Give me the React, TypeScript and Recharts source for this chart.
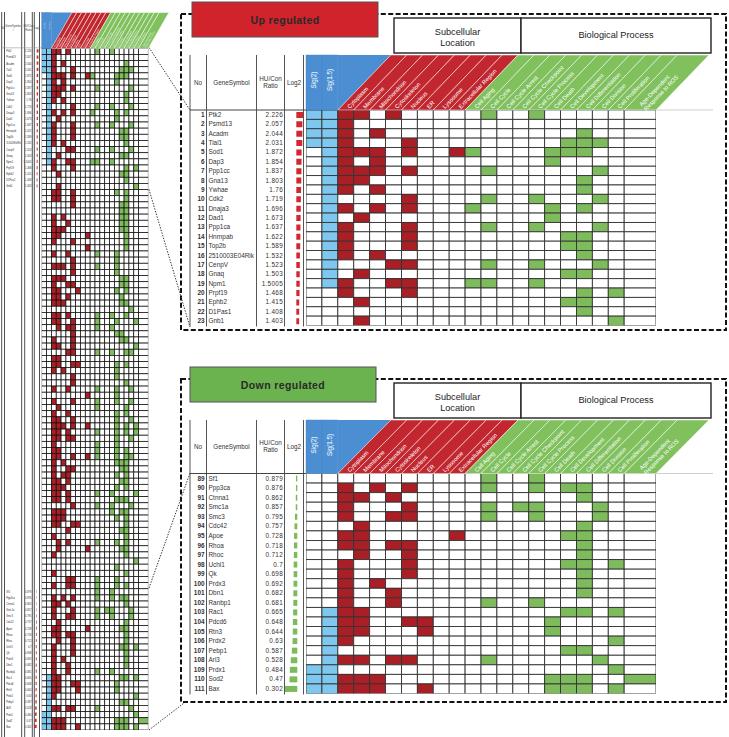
import React from 'react';
import { ScatterChart, Scatter, XAxis, YAxis, BarChart, Bar } from 'recharts';

const W = 729;
const H = 737;
const FONT = '"Liberation Sans", Arial, Helvetica, sans-serif';

// ---------------- data ----------------
const columnLabels = [
  'Sig(2)', 'Sig(1.5)',
  'Cytoplasm', 'Membrane', 'Mitochondrion', 'Cytoskeleton', 'Nucleus', 'ER', 'Lysosome', 'Extracellular Region',
  'Cell Aging', 'Cell Cycle', 'Cell Cycle Arrest', 'Cell Cycle Checkpoint', 'Cell Cycle Process', 'Cell Death',
  'Cell Development', 'Cell Differentiation', 'Cell Division', 'Cell Proliferation', 'Age-Dependent|Response to ROS',
];

const upNo = [1, 2, 3, 4, 5, 6, 7, 8, 9, 10, 11, 12, 13, 14, 15, 16, 17, 18, 19, 20, 21, 22, 23];
const upGenes = ['Ptk2', 'Psmd13', 'Acadm', 'Tial1', 'Sod1', 'Dap3', 'Ppp1cc', 'Gna13', 'Ywhae', 'Cdk2', 'Dnaja3', 'Dad1',
  'Ppp1ca', 'Hnrnpab', 'Top2b', '2510003E04Rik', 'CenpV', 'Gnaq', 'Npm1', 'Prpf19', 'Ephb2', 'D1Pas1', 'Gnb1'];
const upRatios = [2.226, 2.057, 2.044, 2.031, 1.872, 1.854, 1.837, 1.803, 1.76, 1.719, 1.696, 1.673, 1.637, 1.622, 1.589,
  1.532, 1.523, 1.503, 1.5005, 1.468, 1.415, 1.408, 1.403];
// column indices that are filled for each row (0-1 Sig, 2-9 location, 10-20 process)
const upHits = [
  [0, 1, 2, 3, 5, 11, 14],
  [0, 1, 2],
  [0, 1, 2, 4, 17],
  [0, 1, 2, 6, 16, 17, 18],
  [1, 2, 3, 4, 6, 9, 10, 15, 16, 17],
  [1, 2, 4, 15],
  [1, 2, 3, 4, 6, 11, 18],
  [1, 2, 3, 17],
  [1, 2, 4, 17],
  [1, 6, 11, 14, 18],
  [1, 2, 4, 6, 10, 15, 17],
  [1, 3, 15],
  [1, 2, 6, 11, 14, 18],
  [1, 2, 6, 16, 17],
  [1, 2, 6, 16, 17],
  [1, 2, 4, 17],
  [1, 5, 6, 11, 14, 18],
  [1, 3, 16, 17],
  [1, 2, 5, 6, 10, 11, 14],
  [2, 6, 17, 19],
  [3, 16, 17],
  [17],
  [3, 19],
];

const downNo = [89, 90, 91, 92, 93, 94, 95, 96, 97, 98, 99, 100, 101, 102, 103, 104, 105, 106, 107, 108, 109, 110, 111];
const downGenes = ['Sf1', 'Ppp3ca', 'Ctnna1', 'Smc1a', 'Smc3', 'Cdc42', 'Apoe', 'Rhoa', 'Rhoc', 'Uchl1', 'Qk', 'Prdx3',
  'Dbn1', 'Ranbp1', 'Rac1', 'Pdcd6', 'Rtn3', 'Prdx2', 'Pebp1', 'Arl3', 'Prdx1', 'Sod2', 'Bax'];
const downRatios = [0.879, 0.876, 0.862, 0.857, 0.795, 0.757, 0.728, 0.718, 0.712, 0.7, 0.698, 0.692, 0.682, 0.681,
  0.665, 0.648, 0.644, 0.63, 0.587, 0.528, 0.484, 0.47, 0.302];
const downHits = [
  [11, 14],
  [2, 4, 6, 11, 14, 16, 17],
  [2, 3, 5, 17],
  [2, 6, 11, 13, 14, 18],
  [2, 5, 6, 11, 14, 18],
  [3, 17],
  [2, 3, 9, 16, 17],
  [2, 3, 5, 6, 17],
  [3, 6, 17],
  [2, 6, 16, 17, 19],
  [2, 6, 17],
  [2, 4, 17],
  [2, 5, 17],
  [2, 5, 11, 14],
  [1, 2, 3, 16, 17, 19],
  [1, 2, 3, 6, 7, 15],
  [1, 2, 3, 7, 15],
  [1, 2, 19],
  [1, 16, 17],
  [1, 2, 3, 5, 6, 11, 18],
  [0, 1, 19],
  [0, 1, 2, 3, 4, 15, 16, 17, 20],
  [0, 1, 2, 3, 4, 7, 15, 16, 17, 19],
];

// rows 24-88 (only visible in the overview strip)
const midHits = [
  [2, 3, 6, 15, 17], [2, 3, 6, 17], [6, 16, 17], [16, 17], [2, 4, 16, 17], [2, 5, 16, 17], [2, 3, 4, 16, 17],
  [2, 3, 9, 17], [2, 6, 17], [9, 17], [2, 5, 11, 15], [6, 15], [2, 3, 4, 6, 11, 15], [6, 15], [2, 3, 4, 16, 17],
  [2, 5, 6, 16, 17], [2, 3, 7, 15, 17], [2, 3, 5, 16], [2, 3, 4, 16, 17], [18], [2, 3, 5, 11, 14, 17],
  [2, 3, 6, 11, 15, 19], [3, 5, 6, 11, 14], [6, 15, 16], [2, 6, 16, 17], [2, 3, 6, 19], [5, 6, 11, 14, 17, 18],
  [2, 3], [2, 3, 6, 7, 15, 17], [2, 4, 15], [6, 15], [6, 17], [2, 5, 11, 15, 18], [9, 15], [2, 6, 11, 15, 18],
  [3, 11, 17], [2, 5, 15, 17], [2, 3, 6, 15, 18], [2, 3, 4, 6, 9, 15, 17, 19], [2, 3, 5, 11, 15, 17, 19],
  [2, 3, 5, 6, 15, 18], [2, 11, 15], [2, 3, 11, 15, 17], [2, 3, 6, 9, 11, 15, 17, 18], [2, 4, 15, 16, 17],
  [2, 5, 6, 16, 17], [2, 4, 5, 15, 17], [2, 3, 5, 16, 17], [2, 3, 4, 15, 17], [2, 3, 5, 11, 14, 19],
  [2, 3, 5, 15, 16, 17], [6, 11, 14, 18], [2, 3, 4, 14, 16, 17], [2, 3, 4, 15, 17], [2, 3, 6, 7, 17], [5, 16, 17],
  [2, 17], [3, 5, 11, 15, 17], [3, 9, 16, 17], [2, 17], [19], [15], [2, 17], [5, 6, 11, 15], [2, 5, 6, 11, 15, 17],
];

// ---------------- style ----------------
const CELL: any = { sig: '#7ec7ee', loc: '#aa1f25', bio: '#7dbb5c' };
const HEAD: any = { sig: '#4b8fd2', loc: '#c2262e', bio: '#80c15e' };
const groupOf = (c: number) => (c < 2 ? 'sig' : c < 10 ? 'loc' : 'bio');
const abs: any = { position: 'absolute', left: 0, top: 0 };

function HeaderTick(props: any) {
  const { x, payload, unit, yb, yt, slant, fs, sigFs, sigY, m } = props;
  const v = payload.value;
  const c = v > 20 ? 20 : Math.floor(v);
  const span = c === 20 ? 2 : 1;
  const xl = x - (unit * span) / 2;
  const xr = x + (unit * span) / 2;
  const g = groupOf(c);
  const h = yb - yt;
  const theta = Math.atan2(h, slant);
  const deg = (theta * 180) / Math.PI;
  const label = columnLabels[c];
  if (g === 'sig') {
    const tx = x + sigFs * 0.36;
    const ty = yt + sigY;
    return (
      <g>
        <rect x={xl} y={yt} width={xr - xl} height={h} fill={HEAD.sig} stroke="#3f7fc0" strokeWidth={0.4} />
        {c === 1 && <polygon points={`${xr},${yb} ${xr},${yt} ${xr + slant},${yt}`} fill={HEAD.sig} />}
        <text x={tx} y={ty} transform={`rotate(-90 ${tx} ${ty})`} textAnchor="middle" fontSize={sigFs} fill="#fff" fontFamily={FONT}>{label}</text>
      </g>
    );
  }
  const ux = Math.cos(theta);
  const uy = -Math.sin(theta);
  const nx = Math.sin(theta);
  const ny = Math.cos(theta);
  const lines = label.split('|');
  const gap = fs * 1.1;
  return (
    <g>
      <polygon points={`${xl},${yb} ${xr},${yb} ${xr + slant},${yt} ${xl + slant},${yt}`} fill={HEAD[g]} stroke="#fff" strokeWidth={0.5} />
      {lines.map((t: string, i: number) => {
        const k = fs * 0.35 + (i - (lines.length - 1) / 2) * gap;
        const sx = x + ux * m + nx * k;
        const sy = yb + uy * m + ny * k;
        return (
          <text key={i} x={sx} y={sy} transform={`rotate(${-deg} ${sx} ${sy})`} fontSize={fs} fill="#fff" fontFamily={FONT}>{t}</text>
        );
      })}
    </g>
  );
}

function HeatGrid(props: any) {
  const { hits, x0, x1, yt, y0, y1, slant, fs, sigFs, sigY, m, stroke, sw } = props;
  const nRows = hits.length;
  const unit = (x1 - x0) / 22;
  const rowH = (y1 - y0) / nRows;
  const data: any[] = [];
  hits.forEach((h: number[], r: number) => {
    for (let c = 0; c < 21; c++) data.push({ col: c, x: c < 20 ? c + 0.5 : 21, y: r + 0.5, on: h.includes(c) });
  });
  const ticks = columnLabels.map((_, c) => (c < 20 ? c + 0.5 : 21));
  const shape = (p: any) => {
    const { cx, cy, payload } = p;
    const w = unit * (payload.col === 20 ? 2 : 1);
    return (
      <rect x={cx - w / 2} y={cy - rowH / 2} width={w} height={rowH}
        fill={payload.on ? CELL[groupOf(payload.col)] : '#ffffff'} stroke={stroke} strokeWidth={sw} />
    );
  };
  return (
    <div style={abs}>
      <ScatterChart width={W} height={H} margin={{ top: yt, left: x0, right: W - x1, bottom: H - y1 }}>
        <XAxis type="number" dataKey="x" domain={[0, 22]} orientation="top" height={y0 - yt} ticks={ticks}
          interval={0} axisLine={false} tickLine={false} allowDataOverflow
          tick={(p: any) => <HeaderTick {...p} unit={unit} yb={y0} yt={yt} slant={slant} fs={fs} sigFs={sigFs} sigY={sigY} m={m} />} />
        <YAxis type="number" dataKey="y" domain={[0, nRows]} reversed hide allowDataOverflow />
        <Scatter data={data} isAnimationActive={false} shape={shape} />
      </ScatterChart>
    </div>
  );
}

function RowsChart(props: any) {
  const { rows, y0, y1, xl, xr, domain, color, barSize, fs, noX, nameX, ratioX, spacing, nameMax } = props;
  const tick = (p: any) => {
    const row = rows.find((r: any) => r.no === p.payload.value);
    if (!row) return <g />;
    const y = p.y + fs * 0.36;
    const long = nameMax && row.name && row.name.length * fs * 0.55 > nameMax;
    return (
      <g fontFamily={FONT} fontSize={fs} fill="#333">
        {noX != null && <text x={noX} y={y} textAnchor="end" fontWeight="bold">{row.no}</text>}
        {row.name && (
          <text x={nameX} y={y} textLength={long ? nameMax : undefined} lengthAdjust={long ? 'spacingAndGlyphs' : undefined}>{row.name}</text>
        )}
        {row.ratio != null && <text x={ratioX} y={y} textAnchor="end" letterSpacing={spacing}>{row.ratio}</text>}
      </g>
    );
  };
  return (
    <div style={abs}>
      <BarChart layout="vertical" width={W} height={H} data={rows}
        margin={{ top: y0, bottom: H - y1, left: 0, right: W - xr }} barCategoryGap={0}>
        <XAxis type="number" domain={domain} hide allowDataOverflow />
        <YAxis type="category" dataKey="no" width={xl} axisLine={false} tickLine={false} interval={0} tick={tick} />
        <Bar dataKey="log2" fill={color} barSize={barSize} isAnimationActive={false} />
      </BarChart>
    </div>
  );
}

const upRows = upNo.map((no, i) => ({ no, name: upGenes[i], ratio: upRatios[i], log2: Math.log2(upRatios[i]) }));
const downRows = downNo.map((no, i) => ({ no, name: downGenes[i], ratio: downRatios[i], log2: Math.log2(downRatios[i]) }));
const allHits = [...upHits, ...midHits, ...downHits];
const overviewRows = allHits.map((_, i) => {
  const no = i + 1;
  const u = upNo.indexOf(no);
  const d = downNo.indexOf(no);
  if (u >= 0) return { ...upRows[u] };
  if (d >= 0) return { ...downRows[d] };
  return { no, name: '', ratio: null, log2: null };
});

function PanelDecor({ top, title, titleFill, tx0, tx1, yHead, y0, y1, dashTop, dashBottom }: any) {
  const vx = [190, 206.5, 256.5, 284.5, 303.5];
  const hy = (yHead + y0) / 2 + 2;
  return (
    <g fontFamily={FONT}>
      <rect x={181} y={dashTop} width={545} height={dashBottom - dashTop} fill="none" stroke="#111" strokeWidth={2} strokeDasharray="5 2.4" />
      <rect x={tx0} y={top} width={tx1 - tx0} height={35} fill={titleFill} stroke="#555" strokeWidth={1} />
      <text x={(tx0 + tx1) / 2} y={top + 21.5} textAnchor="middle" fontSize={10.5} fontWeight="bold" fill="#2a2a2a" letterSpacing={0.4}>{title}</text>
      <rect x={394} y={top + 16} width={127} height={35} fill="#fff" stroke="#222" strokeWidth={1.4} />
      <text x={457.5} y={top + 33} textAnchor="middle" fontSize={9.2} fill="#222">Subcellular</text>
      <text x={457.5} y={top + 44} textAnchor="middle" fontSize={9.2} fill="#222">Location</text>
      <rect x={521} y={top + 16} width={190} height={35} fill="#fff" stroke="#222" strokeWidth={1.4} />
      <text x={616} y={top + 36} textAnchor="middle" fontSize={9.2} fill="#222">Biological Process</text>
      {vx.map((x) => <line key={x} x1={x} x2={x} y1={yHead} y2={y1 + 1} stroke="#555" strokeWidth={1} />)}
      <line x1={190} x2={306} y1={y0} y2={y0} stroke="#444" strokeWidth={1} />
      <line x1={656} x2={713} y1={y0} y2={y0} stroke="#cfcfcf" strokeWidth={1} />
      <text x={198} y={hy} textAnchor="middle" fontSize={6.3} fill="#333">No</text>
      <text x={231.5} y={hy} textAnchor="middle" fontSize={6.3} fill="#333">GeneSymbol</text>
      <text x={270.5} y={hy - 3.5} textAnchor="middle" fontSize={6.3} fill="#333">HU/Con</text>
      <text x={270.5} y={hy + 3.5} textAnchor="middle" fontSize={6.3} fill="#333">Ratio</text>
      <text x={294} y={hy} textAnchor="middle" fontSize={6.3} fill="#333">Log2</text>
    </g>
  );
}

function Decor() {
  const ovx = [1.7, 4.5, 21.7, 24.7, 32.3, 34.3, 39.5];
  return (
    <svg width={W} height={H} style={abs}>
      {ovx.map((x) => <line key={x} x1={x} x2={x} y1={12} y2={737} stroke="#222" strokeWidth={0.8} />)}
      <line x1={1.7} x2={41.7} y1={47.8} y2={47.8} stroke="#999" strokeWidth={0.6} />
      <g fontFamily={FONT} fontSize={2.8} fill="#444" textAnchor="middle">
        <text x={3.1} y={29}>No</text>
        <text x={13} y={27}>GeneSymbo</text>
        <text x={13} y={30.5}>l</text>
        <text x={28.5} y={27}>HU/Con</text>
        <text x={28.5} y={30.5}>Ratio</text>
        <text x={37} y={29}>Log2</text>
      </g>
      <PanelDecor top={2} title="Up regulated" titleFill="#d0232c" tx0={192} tx1={378} yHead={55} y0={110} y1={325.5} dashTop={14} dashBottom={330} />
      <PanelDecor top={367} title="Down regulated" titleFill="#6bb34f" tx0={190} tx1={376} yHead={420} y0={473.5} y1={693.5} dashTop={379} dashBottom={702} />
      <g stroke="#333" strokeWidth={1} strokeDasharray="1.4 1.4" fill="none">
        <line x1={149} y1={47.5} x2={190} y2={110} />
        <line x1={149} y1={189.5} x2={190} y2={327} />
        <line x1={149} y1={588} x2={190} y2={473} />
        <line x1={149} y1={730} x2={184} y2={703} />
      </g>
    </svg>
  );
}

export default function App() {
  return (
    <div style={{ position: 'absolute', left: 0, top: 0, width: W, height: H, background: '#fff', fontFamily: FONT }}>
      <Decor />
      {/* overview strip */}
      <HeatGrid hits={allHits} x0={41.7} x1={148.3} yt={12.5} y0={48.3} y1={730} slant={20.6}
        fs={2.3} sigFs={2.3} sigY={13} m={1.5} stroke="#111" sw={0.75} />
      <RowsChart rows={overviewRows} y0={48.3} y1={730} xl={33.8} xr={39.3} domain={[-1.75, 1.6]}
        color="#c9302f" barSize={3.2} fs={2.6} noX={null} nameX={6.2} ratioX={31.5} spacing={0} nameMax={14.5} />
      {/* up regulated */}
      <HeatGrid hits={upHits} x0={306} x1={656} yt={55} y0={110} y1={325.5} slant={53}
        fs={5.8} sigFs={6.3} sigY={25} m={3.5} stroke="#333" sw={0.9} />
      <RowsChart rows={upRows} y0={110} y1={325.5} xl={285} xr={303} domain={[-1.95, 1.15]}
        color="#d3262e" barSize={6} fs={6.4} noX={204.5} nameX={208.5} ratioX={283} spacing={0.3} nameMax={null} />
      {/* down regulated */}
      <HeatGrid hits={downHits} x0={306} x1={656} yt={420} y0={473.5} y1={693.5} slant={53}
        fs={5.8} sigFs={6.3} sigY={25} m={3.5} stroke="#333" sw={0.9} />
      <RowsChart rows={downRows} y0={473.5} y1={693.5} xl={285} xr={303} domain={[-1.73, 0.8]}
        color="#7cbb5a" barSize={6} fs={6.4} noX={204.5} nameX={208.5} ratioX={283} spacing={0.3} nameMax={null} />
    </div>
  );
}
